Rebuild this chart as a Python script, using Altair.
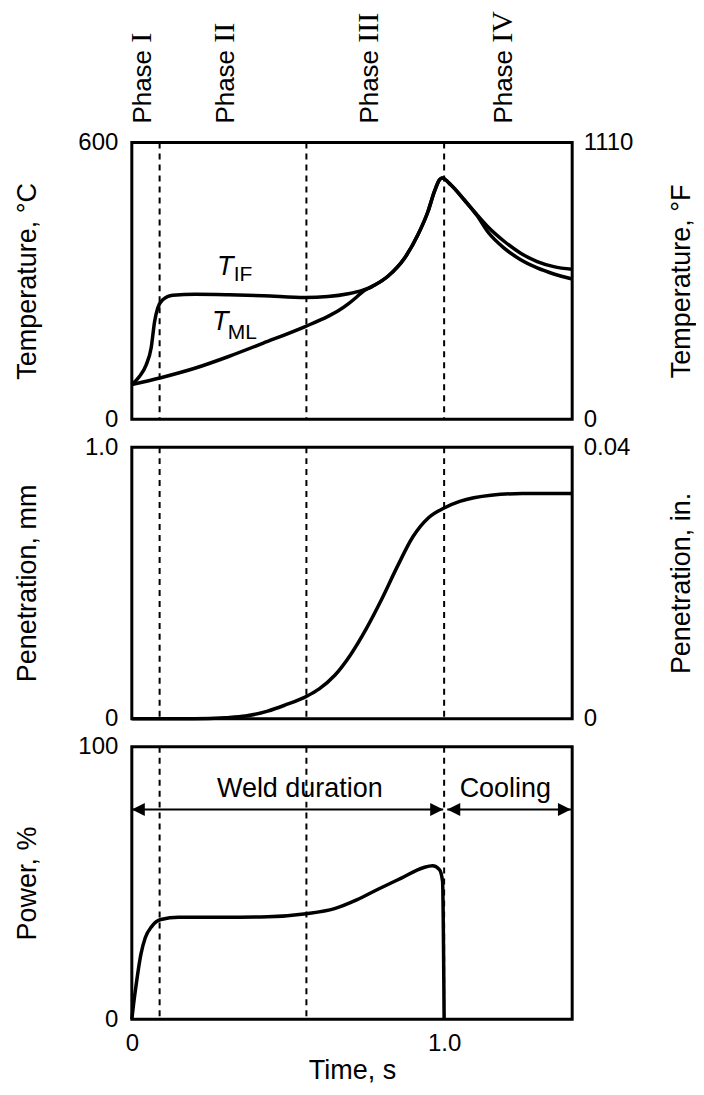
import altair as alt
import pandas as pd

# ---------------- data ----------------
# Temperature panel (deg C)
t_if = [0.0, 0.025, 0.046, 0.062, 0.073, 0.083, 0.099, 0.131, 0.204, 0.31, 0.421, 0.555,
        0.628, 0.693, 0.74, 0.767, 0.82, 0.873, 0.916, 0.948, 0.969, 0.985, 0.993, 1.022,
        1.064, 1.107, 1.139, 1.192, 1.245, 1.298, 1.351, 1.41]
temp_if = [75, 93, 118, 155, 212, 241, 259, 269, 271, 270, 268, 264,
           266, 272, 280, 287, 310, 349, 400, 450, 494, 519, 523, 508,
           476, 440, 407, 371, 346, 328, 315, 304]
t_ml = [0.0, 0.093, 0.204, 0.31, 0.421, 0.555, 0.628, 0.661, 0.693, 0.72, 0.74, 0.767,
        0.82, 0.873, 0.916, 0.948, 0.969, 0.985, 0.993, 1.022, 1.064, 1.107, 1.139,
        1.192, 1.245, 1.298, 1.351, 1.41]
temp_ml = [75, 90, 111, 136, 165, 201, 223, 235, 250, 265, 277, 287,
           310, 349, 400, 450, 494, 519, 523, 508, 476, 442, 418,
           386, 360, 342, 331, 325]

# Penetration panel (mm)
t_pen = [0.0, 0.2, 0.3, 0.364, 0.435, 0.49, 0.56, 0.6, 0.65, 0.7, 0.75, 0.8, 0.85,
         0.9, 0.95, 1.0, 1.05, 1.15, 1.25, 1.41]
pen_mm = [0.0, 0.0, 0.004, 0.01, 0.028, 0.05, 0.083, 0.11, 0.16, 0.235, 0.33, 0.44, 0.56,
          0.67, 0.74, 0.776, 0.80, 0.823, 0.829, 0.829]

# Power panel (%)
t_pow = [0.0, 0.005, 0.014, 0.029, 0.043, 0.064, 0.093, 0.15, 0.29, 0.435, 0.558, 0.649,
         0.72, 0.79, 0.863, 0.935, 0.963, 0.985, 0.995, 1.0]
power_pct = [0, 5, 12.8, 23.8, 29.9, 34.1, 36.6, 37.4, 37.4, 37.6, 38.7, 40.6,
             43.8, 47.8, 51.8, 55.7, 56.3, 54.9, 50.6, 0]

# Phase boundaries and labels
phase_bounds = [0.089, 0.559, 1.0]
phase_word = ["Phase", "Phase", "Phase", "Phase"]
phase_numeral = ["I", "II", "III", "IV"]
phase_x = [0.061, 0.326, 0.788, 1.218]

# Curve labels (T with subscript)
curve_T_x = [0.273, 0.257]
curve_T_y = [313, 193]
curve_sub = ["IF", "ML"]
curve_sub_x = [0.326, 0.307]
curve_sub_y = [299, 173]

# Power annotations
arrow_start = [0.0, 1.01]
arrow_end = [0.997, 1.406]
arrow_level = [77, 77]
ann_text = ["Weld duration", "Cooling"]
ann_x = [0.538, 1.196]
ann_y = [81.7, 81.7]

# ---------------- styling ----------------
FONT = "Liberation Sans"
SERIF = "Liberation Serif"
W = 441
H_TOP, H_MID, H_BOT = 277, 272, 273
LW = 3.5

x_scale = alt.Scale(domain=[0, 1.41], nice=False, zero=False)
x_none = alt.X("t:Q", scale=x_scale, axis=None)


def left_axis(title, values, h, label_expr=None):
    kw = dict(values=values, title=title, ticks=False, tickSize=0, domain=False, grid=False,
              labelPadding=14, titleAngle=270, titleX=-104, titleY=h / 2,
              titleAlign="center", titleBaseline="middle", labelFlush=False)
    if label_expr:
        kw["labelExpr"] = label_expr
    return alt.Axis(**kw)


def right_axis(title, values, h, label_expr=None):
    kw = dict(values=values, title=title, orient="right", ticks=False, tickSize=0,
              domain=False, grid=False, labelPadding=11, titleAngle=270, titleX=109,
              titleY=h / 2, titleAlign="center", titleBaseline="middle", labelFlush=False)
    if label_expr:
        kw["labelExpr"] = label_expr
    return alt.Axis(**kw)


def dashed(xenc):
    return alt.Chart(pd.DataFrame({"t": phase_bounds})).mark_rule(
        color="black", strokeWidth=2, strokeDash=[6, 5]
    ).encode(x=xenc)


def right_layer(domain, title, h, label_expr=None):
    return alt.Chart(pd.DataFrame({"v": domain})).mark_point(opacity=0).encode(
        y=alt.Y("v:Q", scale=alt.Scale(domain=domain, nice=False, zero=False),
                axis=right_axis(title, domain, h, label_expr))
    )


# ---------------- top panel: temperature ----------------
temp_df = pd.DataFrame({
    "t": t_if + t_ml,
    "v": temp_if + temp_ml,
    "s": ["IF"] * len(t_if) + ["ML"] * len(t_ml),
})
y_temp = alt.Y("v:Q", scale=alt.Scale(domain=[0, 600], nice=False, zero=False),
               axis=left_axis("Temperature, °C", [0, 600], H_TOP))

temp_lines = alt.Chart(temp_df).mark_line(
    color="black", strokeWidth=LW, interpolate="monotone"
).encode(x=x_none, y=y_temp, detail="s:N")

T_df = pd.DataFrame({"t": curve_T_x, "v": curve_T_y, "txt": ["T", "T"]})
T_marks = alt.Chart(T_df).mark_text(
    font=FONT, fontSize=27, fontStyle="italic", align="left", baseline="alphabetic", color="black"
).encode(x=x_none, y=y_temp, text="txt:N")

sub_df = pd.DataFrame({"t": curve_sub_x, "v": curve_sub_y, "txt": curve_sub})
sub_marks = alt.Chart(sub_df).mark_text(
    font=FONT, fontSize=21, align="left", baseline="alphabetic", color="black"
).encode(x=x_none, y=y_temp, text="txt:N")

phase_df = pd.DataFrame({"t": phase_x, "w": phase_word, "n": phase_numeral})
phase_words = alt.Chart(phase_df).mark_text(
    font=FONT, fontSize=26, angle=270, align="left", baseline="alphabetic", color="black"
).encode(x=x_none, y=alt.value(-19), text="w:N")
phase_nums = alt.Chart(phase_df).mark_text(
    font=SERIF, fontSize=30, angle=270, align="left", baseline="alphabetic", dx=81, color="black"
).encode(x=x_none, y=alt.value(-19), text="n:N")

top_main = alt.layer(temp_lines, dashed(x_none), T_marks, sub_marks, phase_words, phase_nums)
top = alt.layer(
    top_main,
    right_layer([0, 1110], "Temperature, °F", H_TOP,
                "datum.value == 0 ? '0' : format(datum.value, 'd')"),
).resolve_scale(y="independent").properties(width=W, height=H_TOP)

# ---------------- middle panel: penetration ----------------
pen_df = pd.DataFrame({"t": t_pen, "v": pen_mm})
pen_line = alt.Chart(pen_df).mark_line(
    color="black", strokeWidth=LW, interpolate="monotone"
).encode(
    x=x_none,
    y=alt.Y("v:Q", scale=alt.Scale(domain=[0, 1.0], nice=False, zero=False),
            axis=left_axis("Penetration, mm", [0, 1.0], H_MID,
                           "datum.value == 0 ? '0' : format(datum.value, '.1f')")),
)
mid_main = alt.layer(pen_line, dashed(x_none))
mid = alt.layer(
    mid_main,
    right_layer([0, 0.04], "Penetration, in.", H_MID,
                "datum.value == 0 ? '0' : format(datum.value, '.2f')"),
).resolve_scale(y="independent").properties(width=W, height=H_MID)

# ---------------- bottom panel: power ----------------
x_bottom = alt.X(
    "t:Q", scale=x_scale,
    axis=alt.Axis(values=[0, 1.0], title="Time, s", ticks=False, tickSize=0, domain=False,
                  grid=False, labelPadding=12, labelFlush=False,
                  titleBaseline="alphabetic", titleY=59, titleAlign="center",
                  labelExpr="datum.value == 0 ? '0' : '1.0'"),
)
y_pow = alt.Y("v:Q", scale=alt.Scale(domain=[0, 100], nice=False, zero=False),
              axis=left_axis("Power, %", [0, 100], H_BOT))

pow_df = pd.DataFrame({"t": t_pow, "v": power_pct})
pow_line = alt.Chart(pow_df).mark_line(
    color="black", strokeWidth=LW, interpolate="monotone"
).encode(x=x_bottom, y=y_pow)

arr_df = pd.DataFrame({"t": arrow_start, "t2": arrow_end, "v": arrow_level})
arrow_rules = alt.Chart(arr_df).mark_rule(color="black", strokeWidth=2).encode(
    x=x_bottom, x2="t2:Q", y=y_pow
)
head_right = alt.Chart(arr_df).transform_calculate(t="datum.t2").mark_point(
    shape="M0,0L-2,-1L-2,1Z", filled=True, size=169, color="black", opacity=1
).encode(x=x_bottom, y=y_pow)
head_left = alt.Chart(arr_df).mark_point(
    shape="M0,0L2,-1L2,1Z", filled=True, size=169, color="black", opacity=1
).encode(x=x_bottom, y=y_pow)

ann_df = pd.DataFrame({"t": ann_x, "v": ann_y, "txt": ann_text})
ann_marks = alt.Chart(ann_df).mark_text(
    font=FONT, fontSize=27, align="center", baseline="alphabetic", color="black"
).encode(x=x_bottom, y=y_pow, text="txt:N")

bot = alt.layer(pow_line, dashed(x_bottom), arrow_rules, head_right, head_left, ann_marks).properties(
    width=W, height=H_BOT
)

chart = alt.vconcat(top, mid, bot, spacing=0).properties(
    padding={"left": 4, "top": 0, "right": 0, "bottom": 0}
).configure_view(
    stroke="black", strokeWidth=3
).configure_axis(
    labelFont=FONT, titleFont=FONT, labelFontSize=24, titleFontSize=27,
    titleFontWeight="normal", labelColor="black", titleColor="black"
)

chart.save("out.html", embed_options={"renderer": "svg", "actions": False})
